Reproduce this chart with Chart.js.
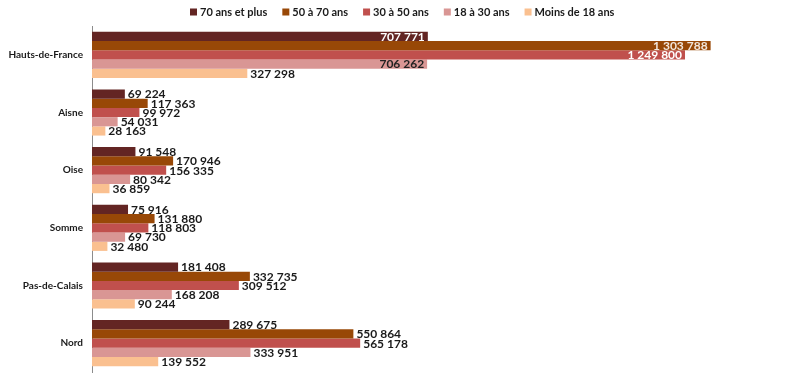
<!DOCTYPE html>
<html>
<head>
<meta charset="utf-8">
<script src="https://cdn.jsdelivr.net/npm/chart.js@4"></script>
<style>
html,body{margin:0;padding:0;background:#fff;}
#wrap{width:800px;height:381px;position:relative;}
</style>
</head>
<body>
<div id="wrap"><canvas id="c" width="800" height="381"></canvas></div>
<script>
const categories = ['Hauts-de-France', 'Aisne', 'Oise', 'Somme', 'Pas-de-Calais', 'Nord'];
const seriesNames = ['70 ans et plus', '50 à 70 ans', '30 à 50 ans', '18 à 30 ans', 'Moins de 18 ans'];
const age70plus = [707771, 69224, 91548, 75916, 181408, 289675];
const age50to70 = [1303788, 117363, 170946, 131880, 332735, 550864];
const age30to50 = [1249800, 99972, 156335, 118803, 309512, 565178];
const age18to30 = [706262, 54031, 80342, 69730, 168208, 333951];
const under18 = [327298, 28163, 36859, 32480, 90244, 139552];
const seriesColors = ['#632523', '#984807', '#c0504d', '#d99694', '#fac090'];
const insideTextColors = ['#ffffff', '#f2e6dc', '#ffffff', '#222222', '#222222'];

const seriesValues = [age70plus, age50to70, age30to50, age18to30, under18];
const FONT = 'Lato, "Open Sans", sans-serif';

function fmt(v) {
  return String(v).replace(/\B(?=(\d{3})+(?!\d))/g, ' ');
}

const labelPlugin = {
  id: 'valueLabels',
  afterDatasetsDraw(chart) {
    const ctx = chart.ctx;
    ctx.save();
    ctx.font = 'bold 12px ' + FONT;
    ctx.textBaseline = 'middle';
    chart.data.datasets.forEach((ds, di) => {
      const meta = chart.getDatasetMeta(di);
      meta.data.forEach((bar, i) => {
        const v = ds.data[i];
        const txt = fmt(v);
        const inside = (i === 0 && v > 500000);
        if (inside) {
          ctx.textAlign = 'right';
          ctx.fillStyle = insideTextColors[di];
          ctx.fillText(txt, bar.x - 3, bar.y + 0.5);
        } else {
          ctx.textAlign = 'left';
          ctx.fillStyle = '#1a1a1a';
          ctx.fillText(txt, bar.x + 3, bar.y + 0.5);
        }
      });
    });
    ctx.restore();
  }
};

const legendPlugin = {
  id: 'customLegend',
  afterDraw(chart) {
    const ctx = chart.ctx;
    ctx.save();
    ctx.font = 'bold 11px ' + FONT;
    ctx.textBaseline = 'middle';
    ctx.textAlign = 'left';
    let x = 190;
    const y = 12;
    chart.data.datasets.forEach((ds) => {
      ctx.fillStyle = ds.backgroundColor;
      ctx.fillRect(x, y - 3.5, 7, 7);
      ctx.fillStyle = '#1a1a1a';
      ctx.fillText(ds.label, x + 10, y + 0.5);
      x += 10 + ctx.measureText(ds.label).width + 15;
    });
    ctx.restore();
  }
};

new Chart(document.getElementById('c'), {
  type: 'bar',
  data: {
    labels: categories,
    datasets: seriesNames.map((name, k) => ({
      label: name,
      data: seriesValues[k],
      backgroundColor: seriesColors[k],
      borderWidth: 0,
      categoryPercentage: 0.8,
      barPercentage: 1.0
    }))
  },
  options: {
    indexAxis: 'y',
    responsive: false,
    animation: false,
    devicePixelRatio: 1,
    layout: { padding: { top: 26, bottom: 9, left: 0, right: 20 } },
    plugins: {
      legend: { display: false },
      tooltip: { enabled: false }
    },
    scales: {
      x: {
        display: false,
        min: 0,
        max: 1450000
      },
      y: {
        grid: { display: false, drawTicks: false },
        border: { display: true, color: '#8c8c8c', width: 1 },
        ticks: {
          color: '#1a1a1a',
          font: { family: FONT, size: 10, weight: 'bold' },
          padding: 9
        },
        afterFit(scale) { scale.width = 92; scale.paddingTop = 0; scale.paddingBottom = 0; }
      }
    }
  },
  plugins: [labelPlugin, legendPlugin]
});
</script>
</body>
</html>
